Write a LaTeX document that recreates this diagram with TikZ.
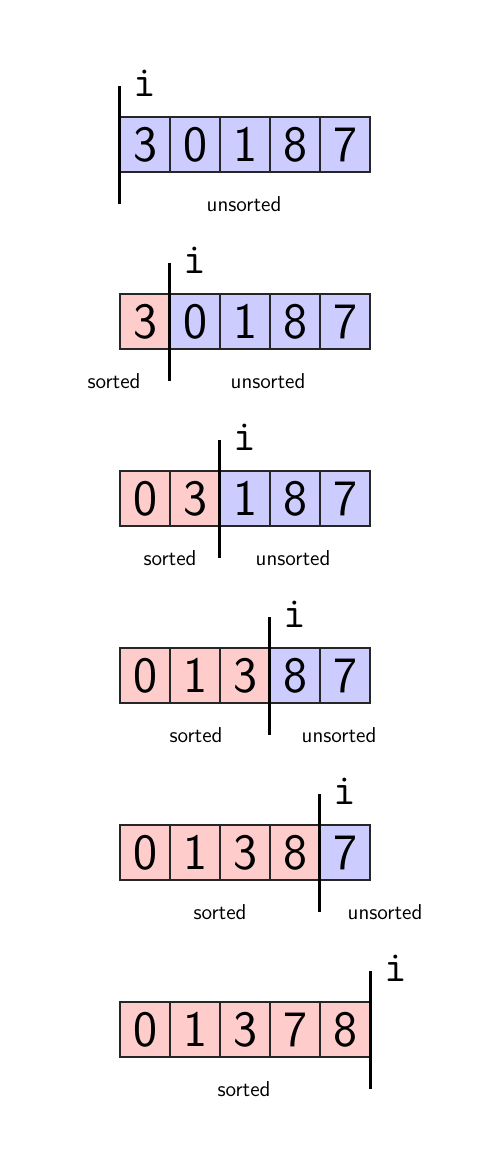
\documentclass[tikz,border=0pt]{standalone}
\usepackage{fontspec}
\begin{document}
\begin{tikzpicture}[x=0.02cm,y=0.02cm,
    cell/.style={draw=black!85,semithick,minimum width=1cm,minimum height=1.1cm,inner sep=0pt,
        font=\sffamily\fontsize{29}{29}\selectfont},
    marker/.style={line width=1.6pt},
    idx/.style={anchor=base west,inner sep=0pt,font=\ttfamily\fontsize{25}{25}\selectfont},
    part/.style={anchor=base,inner sep=0pt,font=\sffamily\fontsize{12.25}{14}\selectfont}]
    \useasboundingbox (0,0) rectangle (498,-1170);

    % the array after each pass
    \foreach \digits [count=\r from 0] in {{3,0,1,8,7},{3,0,1,8,7},{0,3,1,8,7},{0,1,3,8,7},{0,1,3,8,7},{0,1,3,7,8}} {
        \foreach \d [count=\k from 0] in \digits {
            \ifnum\k<\r \def\kind{red!20}\else\def\kind{blue!20}\fi
            \node[cell,fill=\kind] (c\r\k) at (145+50*\k,-144.5-177*\r) {\d};
        }
    }

    % position of i
    \coordinate (t0) at ([yshift=0.6cm]c00.north west);
    \coordinate (b0) at ([yshift=-0.62cm]c00.south west);
    \coordinate (t1) at ([yshift=0.6cm]c11.north west);
    \coordinate (b1) at ([yshift=-0.62cm]c11.south west);
    \coordinate (t2) at ([yshift=0.6cm]c22.north west);
    \coordinate (b2) at ([yshift=-0.62cm]c22.south west);
    \coordinate (t3) at ([yshift=0.6cm]c33.north west);
    \coordinate (b3) at ([yshift=-0.62cm]c33.south west);
    \coordinate (t4) at ([yshift=0.6cm]c44.north west);
    \coordinate (b4) at ([yshift=-0.62cm]c44.south west);
    \coordinate (t5) at ([yshift=0.6cm]c54.north east);
    \coordinate (b5) at ([yshift=-0.62cm]c54.south east);

    \draw[marker] (t0) -- (b0);
    \draw[marker] (t1) -- (b1);
    \draw[marker] (t2) -- (b2);
    \draw[marker] (t3) -- (b3);
    \draw[marker] (t4) -- (b4);
    \draw[marker] (t5) -- (b5);

    \node[idx] (i0) at ([xshift=0.28cm,yshift=-0.2cm]t0) {i};
    \node[idx] (i1) at ([xshift=0.28cm,yshift=-0.2cm]t1) {i};
    \node[idx] (i2) at ([xshift=0.28cm,yshift=-0.2cm]t2) {i};
    \node[idx] (i3) at ([xshift=0.28cm,yshift=-0.2cm]t3) {i};
    \node[idx] (i4) at ([xshift=0.28cm,yshift=-0.2cm]t4) {i};
    \node[idx] (i5) at ([xshift=0.28cm,yshift=-0.2cm]t5) {i};

    % sorted / unsorted parts
    \node[part] (u0) at (244,-211) {unsorted};
    \node[part] (s1) at (114,-388) {sorted};
    \node[part] (u1) at (268,-388) {unsorted};
    \node[part] (s2) at (170,-565) {sorted};
    \node[part] (u2) at (293,-565) {unsorted};
    \node[part] (s3) at (196,-742) {sorted};
    \node[part] (u3) at (339,-742) {unsorted};
    \node[part] (s4) at (220,-919) {sorted};
    \node[part] (u4) at (385,-919) {unsorted};
    \node[part] (s5) at (244,-1096) {sorted};
\end{tikzpicture}
\end{document}
